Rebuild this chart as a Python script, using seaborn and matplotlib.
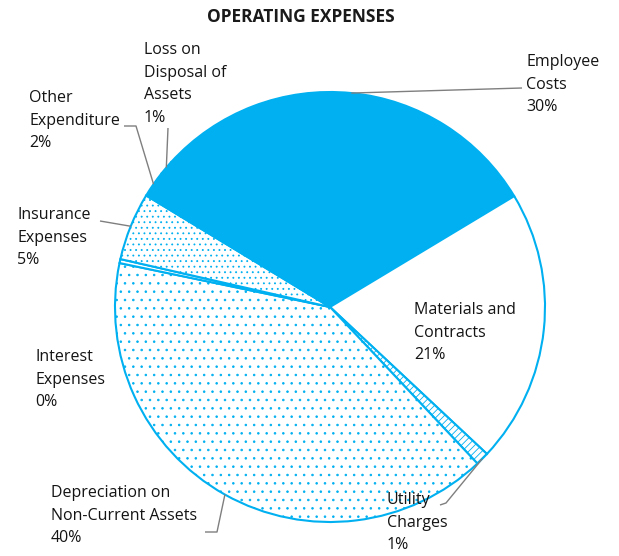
import numpy as np
import pandas as pd
import matplotlib.pyplot as plt
import seaborn as sns

# data (percent of operating expenses)
categories = ['Employee Costs', 'Materials and Contracts', 'Utility Charges',
              'Depreciation on Non-Current Assets', 'Interest Expenses',
              'Insurance Expenses', 'Other Expenditure', 'Loss on Disposal of Assets']
label_text = ['Employee\nCosts', 'Materials and\nContracts', 'Utility\nCharges',
              'Depreciation on\nNon-Current Assets', 'Interest\nExpenses',
              'Insurance\nExpenses', 'Other\nExpenditure', 'Loss on\nDisposal of\nAssets']
shares = [29.6, 20.6, 1.0, 40.3, 0.3, 5.1, 2.0, 1.1]

df = pd.DataFrame({'category': categories, 'label': label_text, 'share': shares})

sns.set_theme(style='white')
plt.rcParams['font.family'] = ['Open Sans', 'DejaVu Sans']
plt.rcParams['hatch.linewidth'] = 0.6

BLUE = '#00B0F0'
face = [BLUE, 'white', 'white', 'white', 'white', 'white', BLUE, BLUE]
hatch = [None, None, '/////', '..', None, '...', None, None]

# pie centre / radius in pixels of the 619x556 figure
CX, CY, R = 330, 307, 215


def px(x, y):
    return ((x - CX) / R, (CY - y) / R)


# text top-left corner (pixels) and leader bends (pixels) per slice
text_pos = [(526, 54), (414, 302), (387, 492), (51, 485), (35, 349),
            (17, 207), (29, 90), (144, 42)]
leaders = [[(522, 88)], [], [(446, 503), (440, 505)], [(217, 532), (205, 532)], [],
           [(100, 221)], [(136, 126), (124, 126)], [(168, 128)]]

fig = plt.figure(figsize=(6.19, 5.56), dpi=100)
ax = fig.add_axes([0, 0, 1, 1])

wedges, _ = ax.pie(df['share'], startangle=137.6, counterclock=False, radius=1,
                   colors=face, wedgeprops=dict(edgecolor=BLUE, linewidth=1.5))
for w, h in zip(wedges, hatch):
    if h:
        w.set_hatch(h)

for i, w in enumerate(wedges):
    mid = np.deg2rad((w.theta1 + w.theta2) / 2)
    if leaders[i]:
        pts = [(np.cos(mid), np.sin(mid))] + [px(*p) for p in leaders[i]]
        xs, ys = zip(*pts)
        ax.plot(xs, ys, color='#7f7f7f', lw=1, solid_capstyle='butt')
    tx, ty = px(*text_pos[i])
    txt = df['label'][i] + '\n' + f"{df['share'][i]:.0f}%"
    ax.text(tx, ty, txt, ha='left', va='top', fontsize=11.5, color='#141414',
            linespacing=1.55)

ax.set_xlim((0 - CX) / R, (619 - CX) / R)
ax.set_ylim((CY - 556) / R, (CY - 0) / R)
ax.set_axis_off()

x0, y0 = px(301, 17)
ax.text(x0, y0, 'OPERATING EXPENSES', ha='center', va='center', fontsize=12.5,
        fontweight='bold', color='#1a1a1a')

fig.savefig('out.png', dpi=100)
